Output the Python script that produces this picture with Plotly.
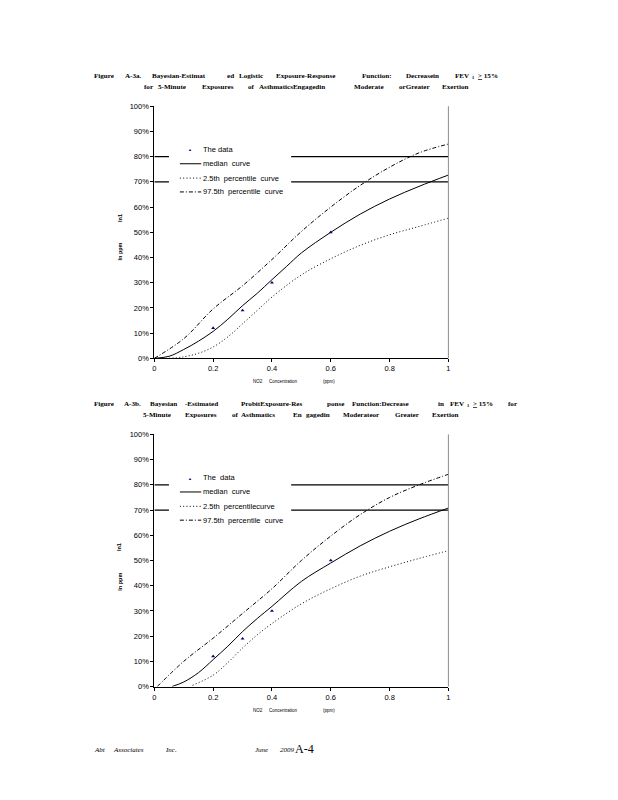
import plotly.graph_objects as go

W, H = 610, 792
OFF = 8  # page body margin of the browser

# ---------------- data ----------------
data_x = [0.2, 0.3, 0.4, 0.6]
data_y = [0.12, 0.19, 0.30, 0.50]
thresholds = [0.8, 0.7]

# Figure A-3a (logistic)
a_med_x = [0.0, 0.05, 0.1, 0.15, 0.2, 0.25, 0.3, 0.35, 0.4, 0.45, 0.5, 0.6, 0.7, 0.8, 0.9, 1.0]
a_med_y = [0.0, 0.008, 0.035, 0.068, 0.107, 0.155, 0.209, 0.258, 0.312, 0.365, 0.418, 0.50, 0.572, 0.632, 0.682, 0.727]
a_lo_x = [0.05, 0.1, 0.15, 0.2, 0.25, 0.3, 0.35, 0.4, 0.5, 0.6, 0.7, 0.8, 0.9, 1.0]
a_lo_y = [0.0, 0.006, 0.02, 0.045, 0.085, 0.137, 0.19, 0.243, 0.331, 0.395, 0.448, 0.49, 0.523, 0.556]
a_hi_x = [0.0, 0.1, 0.2, 0.3, 0.4, 0.5, 0.6, 0.7, 0.8, 0.9, 1.0]
a_hi_y = [0.0, 0.078, 0.196, 0.288, 0.392, 0.503, 0.60, 0.686, 0.758, 0.815, 0.85]

# Figure A-3b (probit)
b_med_x = [0.06, 0.1, 0.15, 0.2, 0.25, 0.3, 0.35, 0.4, 0.5, 0.6, 0.7, 0.8, 0.9, 1.0]
b_med_y = [0.0, 0.018, 0.055, 0.107, 0.16, 0.218, 0.27, 0.318, 0.417, 0.49, 0.558, 0.616, 0.665, 0.708]
b_lo_x = [0.13, 0.2, 0.25, 0.3, 0.35, 0.4, 0.5, 0.6, 0.7, 0.8, 0.9, 1.0]
b_lo_y = [0.005, 0.045, 0.095, 0.153, 0.205, 0.25, 0.328, 0.388, 0.438, 0.475, 0.508, 0.539]
b_hi_x = [0.01, 0.1, 0.2, 0.3, 0.4, 0.5, 0.6, 0.7, 0.8, 0.9, 1.0]
b_hi_y = [0.0, 0.10, 0.192, 0.29, 0.388, 0.50, 0.597, 0.682, 0.75, 0.80, 0.842]

y_ticks = [i / 10 for i in range(11)]
x_ticks = [0, 0.2, 0.4, 0.6, 0.8, 1]
x_tick_text = ["0", "0.2", "0.4", "0.6", "0.8", "1"]

legend_a = ["The data", "median  curve", "2.5th  percentile  curve", "97.5th  percentile  curve"]
legend_b = ["The  data", "median  curve", "2.5th  percentilecurve", "97.5th  percentile  curve"]

# ---------------- helpers ----------------
def PX(x):
    return (x - OFF) / W

def PY(y):
    return 1 - (y - OFF) / H

SANS = "Liberation Sans"
SERIF = "Liberation Serif"

fig = go.Figure()

DOT = "1px,2.3px"
DASHDOT = "4px,2px,1px,2px"


def add_panel(xa, ya, med_x, med_y, lo_x, lo_y, hi_x, hi_y):
    for t in thresholds:
        fig.add_trace(go.Scatter(x=[0, 1], y=[t, t], mode="lines",
                                 line=dict(color="black", width=1.3),
                                 xaxis=xa, yaxis=ya, showlegend=False, hoverinfo="skip"))
    fig.add_trace(go.Scatter(x=hi_x, y=hi_y, mode="lines", line_shape="spline",
                             line=dict(color="black", width=1, dash=DASHDOT),
                             xaxis=xa, yaxis=ya, showlegend=False))
    fig.add_trace(go.Scatter(x=lo_x, y=lo_y, mode="lines", line_shape="spline",
                             line=dict(color="black", width=1, dash=DOT),
                             xaxis=xa, yaxis=ya, showlegend=False))
    fig.add_trace(go.Scatter(x=med_x, y=med_y, mode="lines", line_shape="spline",
                             line=dict(color="black", width=1),
                             xaxis=xa, yaxis=ya, showlegend=False))
    fig.add_trace(go.Scatter(x=data_x, y=data_y, mode="markers",
                             marker=dict(symbol="triangle-up", size=3.5, color="#000080"),
                             xaxis=xa, yaxis=ya, showlegend=False))


add_panel("x", "y", a_med_x, a_med_y, a_lo_x, a_lo_y, a_hi_x, a_hi_y)
add_panel("x2", "y2", b_med_x, b_med_y, b_lo_x, b_lo_y, b_hi_x, b_hi_y)

x_dom = [PX(153.3), PX(449.3)]
y1_dom = [PY(358.3), PY(103.3)]
y2_dom = [PY(690.3), PY(435.3)]

axis_font = dict(family=SANS, size=7.5, color="black")


def xaxis(anchor):
    return dict(domain=x_dom, range=[0, 1], anchor=anchor, tickvals=x_ticks, ticktext=x_tick_text,
                showgrid=False, zeroline=False, showline=True, linecolor="black", linewidth=1,
                ticks="outside", ticklen=3, tickcolor="black", tickfont=axis_font, fixedrange=True)


def yaxis(anchor, dom):
    return dict(domain=dom, range=[0, 1], anchor=anchor, tickvals=y_ticks, tickformat=".0%",
                showgrid=False, zeroline=False, showline=True, linecolor="black", linewidth=1,
                ticks="outside", ticklen=3, tickcolor="black", tickfont=axis_font, fixedrange=True)


shapes = []
annotations = []

# right border of each plot area
for top, bot in [(103.3, 358.3), (435.3, 690.3)]:
    shapes.append(dict(type="line", xref="paper", yref="paper", x0=PX(449.3), x1=PX(449.3),
                       y0=PY(bot), y1=PY(top), line=dict(color="#8c8c8c", width=1)))


def add_legend(top_y, labels):
    rows = [top_y + 7, top_y + 21.5, top_y + 36, top_y + 50]
    shapes.append(dict(type="rect", xref="paper", yref="paper", layer="above",
                       x0=PX(168), x1=PX(291), y0=PY(top_y + 56), y1=PY(top_y),
                       fillcolor="white", line=dict(width=0)))
    annotations.append(dict(xref="paper", yref="paper", x=PX(189.5), y=PY(rows[0] + 0.5),
                            text="▲", showarrow=False, font=dict(family=SANS, size=4, color="#000080"),
                            xanchor="center", yanchor="middle"))
    for r, dash in zip(rows[1:], ["solid", DOT, DASHDOT]):
        shapes.append(dict(type="line", xref="paper", yref="paper", layer="above",
                           x0=PX(179), x1=PX(200.5), y0=PY(r), y1=PY(r),
                           line=dict(color="black", width=1, dash=dash)))
    for r, lab in zip(rows, labels):
        annotations.append(dict(xref="paper", yref="paper", x=PX(200), y=PY(r), text=lab.replace("  ", " &nbsp;"),
                                showarrow=False, xanchor="left", yanchor="middle",
                                font=dict(family=SANS, size=7.5, color="black")))


add_legend(140, legend_a)
add_legend(472, legend_b)

# axis-title fragments
for ycen_a, ycen_b in [(216.5, 250.5), (549.5, 584.5)]:
    annotations.append(dict(xref="paper", yref="paper", x=PX(118.5), y=PY(ycen_a), text="<b>ln1</b>",
                            textangle=-90, showarrow=False, xanchor="center", yanchor="middle",
                            font=dict(family=SANS, size=5.5, color="black")))
    annotations.append(dict(xref="paper", yref="paper", x=PX(118.5), y=PY(ycen_b), text="<b>ln ppm</b>",
                            textangle=-90, showarrow=False, xanchor="center", yanchor="middle",
                            font=dict(family=SANS, size=5.5, color="black")))
for yy in [381.5, 714.5]:
    for xx, txt in [(257.5, "NO2"), (283.5, "Concentration"), (329.5, "(ppm)")]:
        annotations.append(dict(xref="paper", yref="paper", x=PX(xx), y=PY(yy), text=txt,
                                showarrow=False, xanchor="center", yanchor="middle",
                                font=dict(family=SANS, size=4.5, color="black")))

# titles (word by word to mimic the justified spacing)
title_a = [
    (72.5, [(91.7, "Figure"), (122.7, "A-3a."), (150, "Bayesian-Estimat"), (225.7, "ed"),
            (237.3, "Logistic"), (275, "Exposure-Response"), (361.7, "Function:"),
            (406, "Decreasein"), (455, "FEV"), (477.7, "<u>></u> 15%")]),
    (84.2, [(141.7, "for"), (156, "5-Minute"), (200, "Exposures"), (246.7, "of"),
            (257.7, "AsthmaticsEngagedin"), (353.3, "Moderate"), (398.3, "orGreater"),
            (441.7, "Exertion")]),
]
title_b = [
    (404.3, [(91.7, "Figure"), (121.7, "A-3b."), (148.3, "Bayesian"), (183.3, "-Estimated"),
             (240, "ProbitExposure-Res"), (326, "ponse"), (351.7, "Function:Decrease"),
             (438.3, "in"), (450, "FEV"), (473.3, "<u>></u> 15%"), (508.3, "for")]),
    (415.7, [(141, "5-Minute"), (183.3, "Exposures"), (230, "of"), (240, "Asthmatics"),
             (292, "En"), (305, "gagedin"), (341.7, "Moderateor"), (395, "Greater"),
             (431.7, "Exertion")]),
]
for lines in (title_a, title_b):
    for yy, words in lines:
        for xx, w in words:
            annotations.append(dict(xref="paper", yref="paper", x=PX(xx - 1), y=PY(yy), text="<b>" + w + "</b>",
                                    showarrow=False, xanchor="left", yanchor="middle",
                                    font=dict(family=SERIF, size=7.1, color="black")))
# FEV subscripts
for xx, yy in [(471, 74.5), (466, 406.3)]:
    annotations.append(dict(xref="paper", yref="paper", x=PX(xx), y=PY(yy), text="<b>1</b>",
                            showarrow=False, xanchor="left", yanchor="middle",
                            font=dict(family=SERIF, size=4.5, color="black")))

# footer
for xx, w in [(91.7, "Abt"), (110.7, "Associates"), (163.3, "Inc."), (253.3, "June"), (279, "2009")]:
    annotations.append(dict(xref="paper", yref="paper", x=PX(xx - 1), y=PY(754.5), text="<i>" + w + "</i>",
                            showarrow=False, xanchor="left", yanchor="middle",
                            font=dict(family=SERIF, size=7, color="black")))
annotations.append(dict(xref="paper", yref="paper", x=PX(293), y=PY(753.5), text="A-4",
                        showarrow=False, xanchor="left", yanchor="middle",
                        font=dict(family=SERIF, size=12, color="black")))

fig.update_layout(
    width=W, height=H,
    margin=dict(l=0, r=0, t=0, b=0, pad=0),
    paper_bgcolor="white", plot_bgcolor="white",
    showlegend=False,
    xaxis=xaxis("y"), yaxis=yaxis("x", y1_dom),
    xaxis2=xaxis("y2"), yaxis2=yaxis("x2", y2_dom),
    shapes=shapes, annotations=annotations,
)

fig.write_html("out.html")
